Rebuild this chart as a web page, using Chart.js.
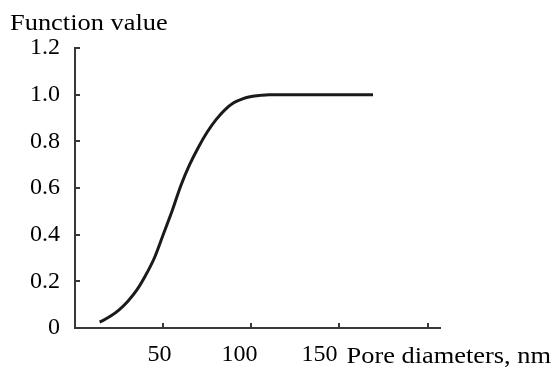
<!DOCTYPE html>
<html>
<head>
<meta charset="utf-8">
<script src="https://cdn.jsdelivr.net/npm/chart.js@4"></script>
<style>
    html, body { margin: 0; padding: 0; background: #fff; }
    #wrap { width: 554px; height: 369px; }
</style>
</head>
<body>
<div id="wrap"><canvas id="chart" width="554" height="369"></canvas></div>
<script>
// pore diameter (nm) and function value
var diameters = [14, 20, 25, 30, 35, 40, 45, 50, 55, 60, 65, 70, 75, 80, 85, 90, 95, 100, 105, 110, 130, 150, 169];
var values = [0.025, 0.05, 0.078, 0.115, 0.162, 0.225, 0.30, 0.40, 0.50, 0.61, 0.70, 0.775, 0.84, 0.893, 0.935, 0.965, 0.982, 0.992, 0.997, 1.0, 1.0, 1.0, 1.0];
var xTicks = [50, 100, 150, 200];
var xLabelValues = [50, 100, 150];
var xLabels = ["50", "100", "150"];
var yTicks = [0, 0.2, 0.4, 0.6, 0.8, 1.0, 1.2];
var yLabels = ["0", "0.2", "0.4", "0.6", "0.8", "1.0", "1.2"];

var fontFamily = "'Liberation Serif', 'Times New Roman', serif";
var axisColor = "#383838";

var innerTicks = {
    id: "innerTicks",
    afterDraw: function (chart) {
        var ctx = chart.ctx;
        var xs = chart.scales.x, ys = chart.scales.y;
        var area = chart.chartArea;
        ctx.save();
        ctx.strokeStyle = axisColor;
        ctx.lineWidth = 2;
        ctx.beginPath();
        xTicks.forEach(function (v) {
            var px = Math.round(xs.getPixelForValue(v));
            ctx.moveTo(px, area.bottom);
            ctx.lineTo(px, area.bottom - 5);
        });
        yTicks.forEach(function (v) {
            var py = Math.round(ys.getPixelForValue(v));
            ctx.moveTo(area.left, py);
            ctx.lineTo(area.left + 5, py);
        });
        ctx.stroke();
        // axis titles, slightly wide like the original print
        ctx.fillStyle = "#000";
        ctx.font = "24px " + fontFamily;
        ctx.textBaseline = "alphabetic";
        ctx.textAlign = "left";
        ctx.save();
        ctx.translate(10, 30);
        ctx.scale(1.1, 1);
        ctx.fillText("Function value", 0, 0);
        ctx.restore();
        ctx.save();
        ctx.translate(xs.getPixelForValue(150) + 7, 363);
        ctx.scale(1.1, 1);
        ctx.fillText("Pore diameters, nm", 0, 0);
        ctx.restore();
        ctx.restore();
    }
};

var config = {
    type: "line",
    data: {
        datasets: [{
            data: diameters.map((d, i) => ({ x: d, y: values[i] })),
            borderColor: "#1a1a1a",
            borderWidth: 3,
            pointRadius: 0,
            cubicInterpolationMode: "monotone",
            fill: false
        }]
    },
    options: {
        responsive: false,
        animation: false,
        layout: { padding: { top: 48, right: 114, left: 0, bottom: 0 } },
        plugins: {
            legend: { display: false },
            tooltip: { enabled: false }
        },
        scales: {
            x: {
                type: "linear",
                position: "bottom",
                min: 0,
                max: 207,
                afterFit: function (scale) { scale.height = 0; },
                afterBuildTicks: function (scale) {
                    scale.ticks = xTicks.map(v => ({ value: v }));
                },
                grid: { display: false, drawTicks: false },
                border: { display: true, color: axisColor, width: 2 },
                ticks: { display: false }
            },
            // the printed labels sit a little left of their tick marks
            xl: {
                type: "linear",
                position: "bottom",
                min: -2.8,
                max: 225.3,
                afterFit: function (scale) { scale.height = 41; },
                afterBuildTicks: function (scale) {
                    scale.ticks = xLabelValues.map(v => ({ value: v }));
                },
                grid: { display: false, drawTicks: false },
                border: { display: false },
                ticks: {
                    padding: 12,
                    color: "#000",
                    font: { family: fontFamily, size: 24 },
                    maxRotation: 0,
                    autoSkip: false,
                    callback: function (value) {
                        var i = xLabelValues.indexOf(value);
                        return i >= 0 ? xLabels[i] : "";
                    }
                }
            },
            y: {
                type: "linear",
                min: 0,
                max: 1.2,
                afterFit: function (scale) { scale.width = 75; },
                afterBuildTicks: function (scale) {
                    scale.ticks = yTicks.map(v => ({ value: v }));
                },
                grid: { display: false, drawTicks: false },
                border: { display: true, color: axisColor, width: 2 },
                ticks: {
                    padding: 15,
                    color: "#000",
                    font: { family: fontFamily, size: 24 },
                    autoSkip: false,
                    callback: function (value) {
                        var i = yTicks.findIndex(t => Math.abs(t - value) < 1e-6);
                        return i >= 0 ? yLabels[i] : "";
                    }
                }
            }
        }
    },
    plugins: [innerTicks]
};

var chart = new Chart(document.getElementById("chart"), config);
</script>
</body>
</html>
